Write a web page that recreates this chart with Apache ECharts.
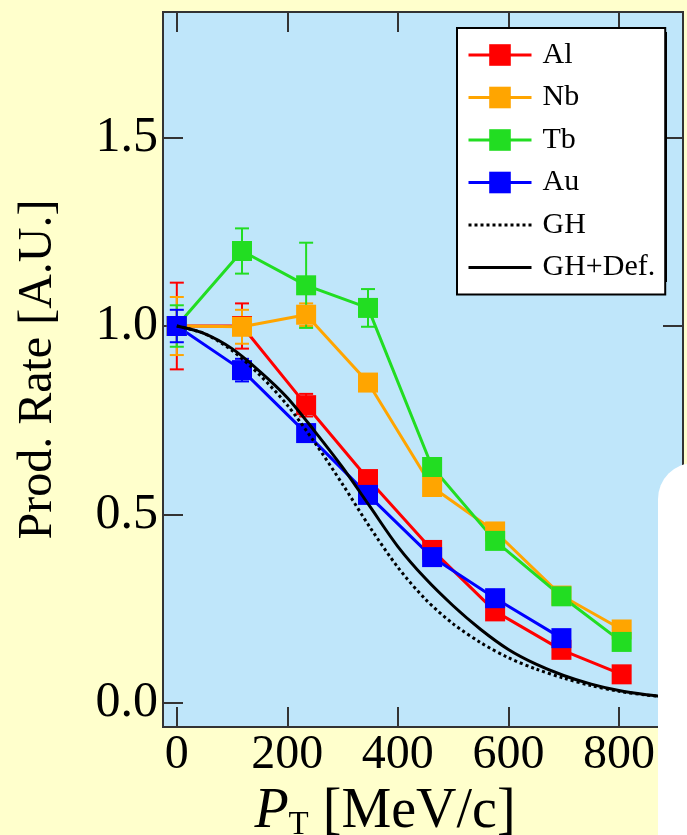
<!DOCTYPE html>
<html>
<head>
<meta charset="utf-8">
<script src="https://cdn.jsdelivr.net/npm/echarts@6/dist/echarts.min.js"></script>
<style>
  html, body { margin: 0; padding: 0; background: #FFFFCC; }
  #chart { width: 687px; height: 835px; }
</style>
</head>
<body>
<div id="chart"></div>
<script>
// ---- data ----
var pt = [0, 118, 234, 346, 462, 576, 696, 805];
var alVal = [1.0, 1.0, 0.79, 0.594, 0.406, 0.243, 0.141, 0.076];
var alErr = [0.115, 0.06, 0.03, 0.02, 0.02, 0.02, 0.015, 0.01];
var nbVal = [1.0, 0.998, 1.03, 0.85, 0.573, 0.455, 0.285, 0.195];
var nbErr = [0.077, 0.045, 0.03, 0.02, 0.02, 0.02, 0.015, 0.01];
var tbVal = [1.0, 1.199, 1.108, 1.048, 0.626, 0.43, 0.283, 0.162];
var tbErr = [0.055, 0.06, 0.113, 0.05, 0.02, 0.02, 0.015, 0.01];
var auPt = [0, 118, 234, 346, 462, 576, 696];
var auVal = [1.0, 0.883, 0.716, 0.552, 0.387, 0.278, 0.172];
var auErr = [0.043, 0.03, 0.02, 0.02, 0.015, 0.015, 0.015];

var theoryPt = [0, 50, 100, 150, 200, 250, 300, 350, 400, 450, 500, 550, 600, 650, 700, 750, 800, 850, 900];
var ghVal    = [1.0, 0.98, 0.935, 0.87, 0.79, 0.69, 0.58, 0.465, 0.36, 0.275, 0.21, 0.16, 0.12, 0.09, 0.066, 0.046, 0.031, 0.021, 0.014];
var ghDefVal = [1.0, 0.98, 0.94, 0.88, 0.81, 0.72, 0.625, 0.52, 0.415, 0.33, 0.258, 0.195, 0.142, 0.103, 0.073, 0.05, 0.033, 0.022, 0.014];

var xTicks = [0, 200, 400, 600, 800];
var yTicks = [0, 0.5, 1.0, 1.5];

var seriesNames = ['Al', 'Nb', 'Tb', 'Au', 'GH', 'GH+Def.'];
var colors = { Al: '#FF0000', Nb: '#FFA500', Tb: '#22DD22', Au: '#0000FF' };

var FONT = 'Liberation Serif';

function pairs(xs, ys) { return xs.map(function (x, i) { return [x, ys[i]]; }); }
function triples(xs, ys, es) { return xs.map(function (x, i) { return [x, ys[i], es[i]]; }); }

function errSeries(name, xs, ys, es) {
  var color = colors[name];
  return {
    type: 'custom',
    z: 2,
    silent: true,
    data: triples(xs, ys, es),
    encode: { x: 0, y: 1 },
    renderItem: function (params, api) {
      var x = api.value(0), y = api.value(1), e = api.value(2);
      var top = api.coord([x, y + e]);
      var bot = api.coord([x, y - e]);
      var cap = 7;
      var st = { stroke: color, lineWidth: 2 };
      return {
        type: 'group',
        children: [
          { type: 'line', shape: { x1: top[0], y1: top[1], x2: bot[0], y2: bot[1] }, style: st },
          { type: 'line', shape: { x1: top[0] - cap, y1: top[1], x2: top[0] + cap, y2: top[1] }, style: st },
          { type: 'line', shape: { x1: bot[0] - cap, y1: bot[1], x2: bot[0] + cap, y2: bot[1] }, style: st }
        ]
      };
    }
  };
}

function dataSeries(name, xs, ys) {
  var color = colors[name];
  return {
    name: name,
    type: 'line',
    z: 3,
    data: pairs(xs, ys),
    symbol: 'rect',
    symbolSize: 20,
    showAllSymbol: true,
    lineStyle: { color: color, width: 3 },
    itemStyle: { color: color },
    emphasis: { disabled: true }
  };
}

var axisLineStyle = { color: '#333', width: 2 };

var chart = echarts.init(document.getElementById('chart'));
chart.setOption({
  backgroundColor: '#FFFFCC',
  animation: false,
  grid: {
    left: 163, top: 12, right: 4, bottom: 108,
    outerBoundsMode: 'none',
    containLabel: false,
    show: true, backgroundColor: '#BFE6FA', borderColor: '#333', borderWidth: 2
  },
  legend: {
    data: [
      { name: 'Al' }, { name: 'Nb' }, { name: 'Tb' }, { name: 'Au' },
      { name: 'GH', itemStyle: { opacity: 0 } },
      { name: 'GH+Def.', itemStyle: { opacity: 0 } }
    ],
    orient: 'vertical',
    left: 457, top: 28,
    padding: [12, 10, 12, 10],
    itemWidth: 63, itemHeight: 27, itemGap: 12.5,
    backgroundColor: '#FFFFFF',
    borderColor: '#000', borderWidth: 2,
    lineStyle: { width: 3 },
    textStyle: { fontFamily: FONT, fontSize: 30, lineHeight: 27, color: '#000', padding: [0, 0, 0, 6] },
    selectedMode: false,
    z: 10
  },
  xAxis: [{
    type: 'value', min: -25, max: 916, position: 'bottom',
    axisLine: { show: true, onZero: false, lineStyle: axisLineStyle },
    axisTick: { show: true, inside: true, length: 20, customValues: xTicks, lineStyle: axisLineStyle },
    axisLabel: { customValues: xTicks, fontFamily: FONT, fontSize: 48, color: '#000', margin: 4 },
    splitLine: { show: false },
    name: '{p|P}{s|T}{r| [MeV/c]}',
    nameLocation: 'middle',
    nameGap: 45,
    nameTextStyle: {
      padding: [0, 76, 0, 0],
      rich: {
        p: { fontFamily: FONT, fontStyle: 'italic', fontSize: 56, lineHeight: 60, color: '#000', verticalAlign: 'middle' },
        s: { fontFamily: FONT, fontSize: 33, lineHeight: 30, color: '#000', verticalAlign: 'bottom' },
        r: { fontFamily: FONT, fontSize: 56, lineHeight: 60, color: '#000', verticalAlign: 'middle' }
      }
    }
  }, {
    type: 'value', min: -25, max: 916, position: 'top',
    axisLine: { show: true, onZero: false, lineStyle: axisLineStyle },
    axisTick: { show: true, inside: true, length: 20, customValues: xTicks, lineStyle: axisLineStyle },
    axisLabel: { show: false },
    splitLine: { show: false }
  }],
  yAxis: [{
    type: 'value', min: -0.0637, max: 1.833, position: 'left',
    axisLine: { show: true, onZero: false, lineStyle: axisLineStyle },
    axisTick: { show: true, inside: true, length: 20, customValues: yTicks, lineStyle: axisLineStyle },
    axisLabel: {
      customValues: yTicks, fontFamily: FONT, fontSize: 50, color: '#000', margin: 5,
      formatter: function (v) { return v.toFixed(1); }
    },
    splitLine: { show: false },
    name: 'Prod. Rate [A.U.]',
    nameLocation: 'middle',
    nameGap: 101,
    nameTextStyle: { fontFamily: FONT, fontSize: 48, color: '#000' }
  }, {
    type: 'value', min: -0.0637, max: 1.833, position: 'right',
    axisLine: { show: true, onZero: false, lineStyle: axisLineStyle },
    axisTick: { show: true, inside: true, length: 20, customValues: yTicks, lineStyle: axisLineStyle },
    axisLabel: { show: false },
    splitLine: { show: false }
  }],
  series: [
    errSeries('Al', pt, alVal, alErr),
    errSeries('Nb', pt, nbVal, nbErr),
    errSeries('Tb', pt, tbVal, tbErr),
    errSeries('Au', auPt, auVal, auErr),
    dataSeries('Al', pt, alVal),
    dataSeries('Nb', pt, nbVal),
    dataSeries('Tb', pt, tbVal),
    dataSeries('Au', auPt, auVal),
    {
      name: 'GH', type: 'line', z: 4, data: pairs(theoryPt, ghVal), smooth: 0.3,
      symbol: 'none', lineStyle: { color: '#000', width: 3, type: 'dotted' }, itemStyle: { color: '#000' }
    },
    {
      name: 'GH+Def.', type: 'line', z: 4, data: pairs(theoryPt, ghDefVal), smooth: 0.3,
      symbol: 'none', lineStyle: { color: '#000', width: 3 }, itemStyle: { color: '#000' }
    }
  ],
  graphic: [{
    type: 'rect', z: 5, silent: true,
    shape: { x: 461, y: 32, width: 206, height: 250 },
    style: { fill: '#000000' }
  }, {
    type: 'rect', z: 100, silent: true,
    shape: { x: 658, y: 463, width: 120, height: 420, r: 36 },
    style: { fill: '#FFFFFF' }
  }]
});
</script>
</body>
</html>
